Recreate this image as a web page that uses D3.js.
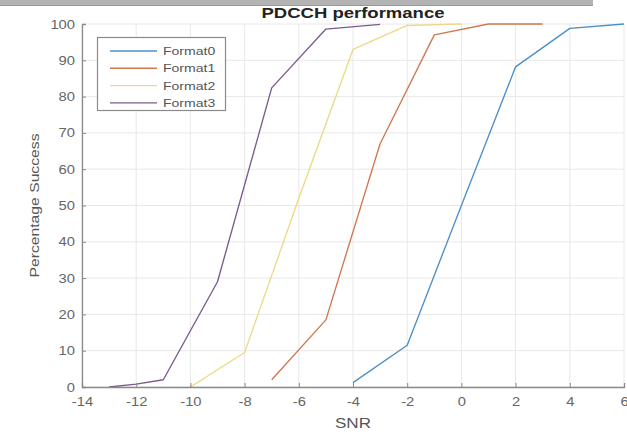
<!DOCTYPE html>
<html>
<head>
<meta charset="utf-8">
<script src="https://cdn.jsdelivr.net/npm/d3@7"></script>
<style>
  html, body { margin: 0; padding: 0; background: #fff; }
  svg { display: block; font-family: "Liberation Sans", Arial, sans-serif; }
</style>
</head>
<body>
<svg id="chart" width="627" height="435"></svg>
<script>
// SNR sweep results for each PDCCH format (percentage of successful decodes)
const seriesNames = ["Format0", "Format1", "Format2", "Format3"];
const format0Snr = [-4, -2, 0, 2, 4, 6];
const format0Pct = [1.2, 11.5, 50, 88.2, 98.8, 100];
const format1Snr = [-7, -5, -3, -1, 1, 3];
const format1Pct = [2, 18.5, 67, 97, 100, 100];
const format2Snr = [-10, -8, -6, -4, -2, 0];
const format2Pct = [0, 9.5, 52, 93, 99.6, 100];
const format3Snr = [-13, -12, -11, -9, -7, -5, -3];
const format3Pct = [0, 0.8, 2, 29, 82.4, 98.6, 99.9];
const xTicks = [-14, -12, -10, -8, -6, -4, -2, 0, 2, 4, 6];
const yTicks = [0, 10, 20, 30, 40, 50, 60, 70, 80, 90, 100];
const colors = ["#4b8fca", "#d0774f", "#eed888", "#7b5a8c"];

const series = [
  { name: seriesNames[0], snr: format0Snr, pct: format0Pct },
  { name: seriesNames[1], snr: format1Snr, pct: format1Pct },
  { name: seriesNames[2], snr: format2Snr, pct: format2Pct },
  { name: seriesNames[3], snr: format3Snr, pct: format3Pct }
];

const svg = d3.select("#chart");
const margin = { left: 82, right: 3, top: 24, bottom: 48 };
const W = 627, H = 435;

// widen glyphs horizontally by a factor while keeping the anchor
function stretch(sel, k) {
  sel.each(function () {
    const n = this.getComputedTextLength();
    d3.select(this).attr("textLength", n * k).attr("lengthAdjust", "spacingAndGlyphs");
  });
}

// window strip along the top edge
svg.append("rect").attr("x", 0).attr("y", 0).attr("width", 593).attr("height", 5)
  .attr("fill", "#b4b4b4");
svg.append("line").attr("x1", 0).attr("x2", 593).attr("y1", 5.5).attr("y2", 5.5)
  .attr("stroke", "#999").attr("stroke-width", 1);

const x = d3.scaleLinear().domain([-14, 6]).range([margin.left, W - margin.right]);
const y = d3.scaleLinear().domain([0, 100]).range([H - margin.bottom, margin.top]);

// grid
const grid = svg.append("g");
grid.selectAll(".gx").data(xTicks).join("line")
  .attr("x1", d => x(d)).attr("x2", d => x(d))
  .attr("y1", y(0)).attr("y2", y(100))
  .attr("stroke", "#e8e8e8").attr("stroke-width", 1);
grid.selectAll(".gy").data(yTicks).join("line")
  .attr("x1", x(-14)).attr("x2", x(6))
  .attr("y1", d => y(d)).attr("y2", d => y(d))
  .attr("stroke", "#e8e8e8").attr("stroke-width", 1);

// series lines
const line = d3.line().x(d => x(d[0])).y(d => y(d[1]));
svg.append("g").selectAll("path").data(series).join("path")
  .attr("d", s => line(s.snr.map((v, i) => [v, s.pct[i]])))
  .attr("fill", "none")
  .attr("stroke", (s, i) => colors[i])
  .attr("stroke-width", 1.35)
  .attr("stroke-linejoin", "round");

// axes with inward ticks
const xAxis = svg.append("g").attr("transform", `translate(0,${y(0)})`)
  .call(d3.axisBottom(x).tickValues(xTicks).tickSize(-4).tickPadding(10)
    .tickFormat(d => d < 0 ? "-" + Math.abs(d) : d));
const yAxis = svg.append("g").attr("transform", `translate(${x(-14)},0)`)
  .call(d3.axisLeft(y).tickValues(yTicks).tickSize(-4).tickPadding(7));
[xAxis, yAxis].forEach(a => {
  a.select(".domain").attr("stroke", "#8a8a8a").attr("stroke-width", 1.3);
  a.selectAll(".tick line").attr("stroke", "#8a8a8a");
  a.selectAll(".tick text").attr("fill", "#666").attr("font-size", 12.5)
    .attr("font-family", "Liberation Sans, Arial, sans-serif")
    .call(stretch, 1.18);
});

// labels
svg.append("text").attr("x", (x(-14) + x(6)) / 2).attr("y", 18)
  .attr("text-anchor", "middle").attr("font-size", 14).attr("font-weight", "bold")
  .attr("fill", "#222").attr("textLength", 183).attr("lengthAdjust", "spacingAndGlyphs")
  .text("PDCCH performance");
svg.append("text").attr("x", (x(-14) + x(6)) / 2).attr("y", 428)
  .attr("text-anchor", "middle").attr("font-size", 14.5).attr("fill", "#555")
  .attr("textLength", 36).attr("lengthAdjust", "spacingAndGlyphs").text("SNR");
svg.append("text")
  .attr("transform", `translate(39,${(y(0) + y(100)) / 2}) rotate(-90)`)
  .attr("text-anchor", "middle").attr("font-size", 13.5).attr("fill", "#555")
  .attr("textLength", 144).attr("lengthAdjust", "spacingAndGlyphs")
  .text("Percentage Success");

// legend
const lg = svg.append("g");
lg.append("rect").attr("x", 97.5).attr("y", 37.5).attr("width", 128).attr("height", 73)
  .attr("fill", "#fff").attr("stroke", "#8a8a8a").attr("stroke-width", 1.2);
const rows = lg.selectAll("g").data(series).join("g")
  .attr("transform", (s, i) => `translate(0,${51 + i * 17.3})`);
rows.append("line").attr("x1", 110).attr("x2", 157).attr("y1", 0).attr("y2", 0)
  .attr("stroke", (s, i) => colors[i]).attr("stroke-width", 1.4);
rows.append("text").attr("x", 163).attr("y", 4).attr("font-size", 11.5)
  .attr("fill", "#555").text(s => s.name).call(stretch, 1.22);
</script>
</body>
</html>
